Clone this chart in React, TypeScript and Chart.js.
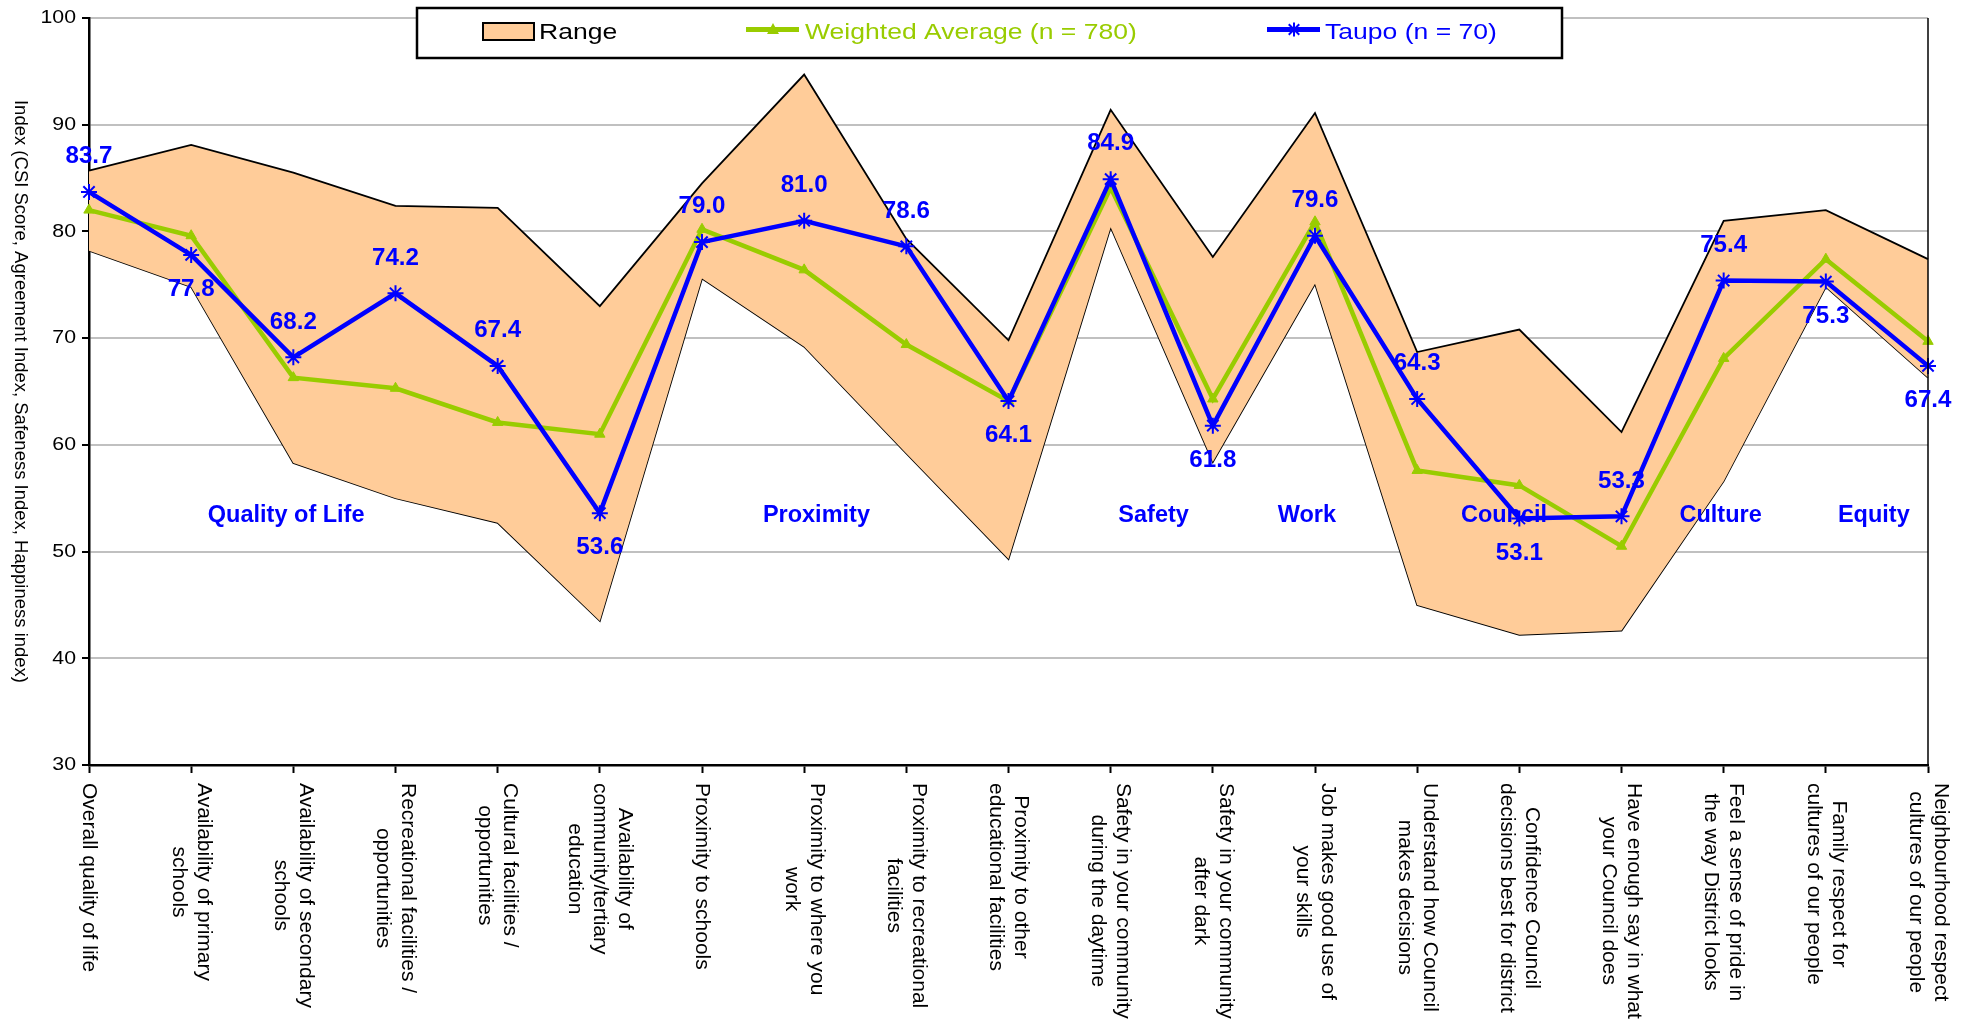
import React, { useEffect, useRef } from 'react';
import { Chart, registerables } from 'chart.js';

Chart.register(...registerables);

// ---------- DATA ----------
const categoryLines: string[][] = [
  ['Overall quality of life'],
  ['Availability of primary', 'schools'],
  ['Availability of secondary', 'schools'],
  ['Recreational facilities /', 'opportunities'],
  ['Cultural facilities /', 'opportunities'],
  ['Availability of', 'community/tertiary', 'education'],
  ['Proximity to schools'],
  ['Proximity to where you', 'work'],
  ['Proximity to recreational', 'facilities'],
  ['Proximity to other', 'educational facilities'],
  ['Safety in your community', 'during the daytime'],
  ['Safety in your community', 'after dark'],
  ['Job makes good use of', 'your skills'],
  ['Understand how Council', 'makes decisions'],
  ['Confidence Council', 'decisions best for district'],
  ['Have enough say in what', 'your Council does'],
  ['Feel a sense of pride in', 'the way District looks'],
  ['Family respect for', 'cultures of our people'],
  ['Neighbourhood respect', 'cultures of our people'],
];
const categories = categoryLines.map((l) => l.join(' '));

const rangeUpper = [85.7, 88.1, 85.5, 82.4, 82.2, 73.0, 84.5, 94.7, 79.3, 69.8, 91.4, 77.6, 91.1, 68.7, 70.8, 61.2, 81.0, 82.0, 77.4];
const rangeLower = [78.2, 74.8, 58.3, 55.0, 52.7, 43.5, 75.6, 69.2, 59.2, 49.3, 80.4, 58.4, 75.1, 45.0, 42.2, 42.6, 56.6, 74.8, 66.3];
const weightedAverage = [82.0, 79.6, 66.3, 65.3, 62.1, 61.0, 80.2, 76.4, 69.4, 64.1, 84.1, 64.3, 80.9, 57.6, 56.2, 50.5, 68.1, 77.4, 69.7];
const taupo = [83.7, 77.8, 68.2, 74.2, 67.4, 53.6, 79.0, 81.0, 78.6, 64.1, 84.9, 61.8, 79.6, 64.3, 53.1, 53.3, 75.4, 75.3, 67.4];
// label placement for Taupo values: 1 = above, -1 = below
const taupoLabelSide = [1, -1, 1, 1, 1, -1, 1, 1, 1, -1, 1, -1, 1, 1, -1, 1, 1, -1, -1];

const yTicks = [30, 40, 50, 60, 70, 80, 90, 100];
const yTitle = 'Index (CSI Score, Agreement Index, Safeness Index, Happiness index)';

const groupNames = ['Quality of Life', 'Proximity', 'Safety', 'Work', 'Council', 'Culture', 'Equity'];
const groupPositions = [1.93, 7.12, 10.42, 11.92, 13.85, 15.97, 17.47];
const groupLevel = 53.4;

const legendRange = 'Range';
const legendAvg = 'Weighted Average (n = 780)';
const legendTaupo = 'Taupo (n = 70)';

// ---------- STYLE ----------
const BLUE = '#0000FF';
const GREEN = '#99CC00';
const PEACH = '#FFCC99';
const FONT = '"Liberation Sans", Arial, Helvetica, sans-serif';

function drawText(
  ctx: CanvasRenderingContext2D,
  text: string,
  x: number,
  y: number,
  font: string,
  color: string,
  align: CanvasTextAlign,
  sx = 1
) {
  ctx.save();
  ctx.translate(x, y);
  ctx.scale(sx, 1);
  ctx.font = font;
  ctx.fillStyle = color;
  ctx.textAlign = align;
  ctx.textBaseline = 'middle';
  ctx.fillText(text, 0, 0);
  ctx.restore();
}

function drawStar(ctx: CanvasRenderingContext2D, x: number, y: number, r: number) {
  ctx.beginPath();
  const d = r * 0.75;
  ctx.moveTo(x - d, y - d);
  ctx.lineTo(x + d, y + d);
  ctx.moveTo(x - d, y + d);
  ctx.lineTo(x + d, y - d);
  ctx.moveTo(x, y - r);
  ctx.lineTo(x, y + r);
  ctx.stroke();
}

const overlayPlugin = {
  id: 'overlay',
  afterDraw(chart: any) {
    const ctx: CanvasRenderingContext2D = chart.ctx;
    const xs = chart.scales.x;
    const ys = chart.scales.y;
    const area = chart.chartArea;

    // right border
    ctx.save();
    ctx.strokeStyle = '#000';
    ctx.lineWidth = 1.5;
    ctx.beginPath();
    ctx.moveTo(area.right, area.top);
    ctx.lineTo(area.right, area.bottom);
    ctx.stroke();
    ctx.restore();

    // y tick labels
    yTicks.forEach((v) => {
      drawText(ctx, String(v), area.left - 13, ys.getPixelForValue(v), `19px ${FONT}`, '#000', 'right', 1.12);
    });

    // y title (reads top to bottom)
    ctx.save();
    ctx.translate(20, (area.top + area.bottom) / 2);
    ctx.rotate(Math.PI / 2);
    ctx.font = `18.5px ${FONT}`;
    ctx.fillStyle = '#000';
    ctx.textAlign = 'center';
    ctx.textBaseline = 'middle';
    ctx.fillText(yTitle, 0, 0);
    ctx.restore();

    // x category labels (rotated clockwise)
    const xFont = `21px ${FONT}`;
    const lineH = 25;
    categoryLines.forEach((lines, i) => {
      const x = xs.getPixelForValue(i);
      ctx.save();
      ctx.font = xFont;
      const maxW = Math.max(...lines.map((l) => ctx.measureText(l).width));
      ctx.translate(x, area.bottom + 18);
      ctx.rotate(Math.PI / 2);
      ctx.fillStyle = '#000';
      ctx.textAlign = 'center';
      ctx.textBaseline = 'middle';
      const n = lines.length;
      lines.forEach((l, j) => {
        ctx.fillText(l, maxW / 2, (j - (n - 1) / 2) * lineH);
      });
      ctx.restore();
    });

    // Taupo data labels
    taupo.forEach((v, i) => {
      const x = xs.getPixelForValue(i);
      const y = ys.getPixelForValue(v) - taupoLabelSide[i] * 35;
      drawText(ctx, v.toFixed(1), x, y, `bold 23px ${FONT}`, BLUE, 'center', 1.05);
    });

    // group labels
    groupNames.forEach((g, i) => {
      drawText(ctx, g, xs.getPixelForValue(groupPositions[i]), ys.getPixelForValue(groupLevel), `bold 23.5px ${FONT}`, BLUE, 'center');
    });

    // legend
    ctx.save();
    ctx.fillStyle = '#fff';
    ctx.fillRect(417, 8, 1145, 50);
    ctx.strokeStyle = '#000';
    ctx.lineWidth = 2.5;
    ctx.strokeRect(417, 8, 1145, 50);
    ctx.fillStyle = PEACH;
    ctx.fillRect(483, 23, 51, 17);
    ctx.lineWidth = 2;
    ctx.strokeRect(483, 23, 51, 17);
    ctx.restore();
    const legFont = `22.5px ${FONT}`;
    drawText(ctx, legendRange, 539, 33, legFont, '#000', 'left', 1.18);
    ctx.save();
    ctx.strokeStyle = GREEN;
    ctx.lineWidth = 5;
    ctx.beginPath();
    ctx.moveTo(746, 29.5);
    ctx.lineTo(799, 29.5);
    ctx.stroke();
    ctx.fillStyle = GREEN;
    ctx.beginPath();
    ctx.moveTo(773, 23);
    ctx.lineTo(779, 34);
    ctx.lineTo(767, 34);
    ctx.closePath();
    ctx.fill();
    ctx.restore();
    drawText(ctx, legendAvg, 805, 33, legFont, GREEN, 'left', 1.18);
    ctx.save();
    ctx.strokeStyle = BLUE;
    ctx.lineWidth = 5;
    ctx.beginPath();
    ctx.moveTo(1267, 29.5);
    ctx.lineTo(1320, 29.5);
    ctx.stroke();
    ctx.lineWidth = 2;
    drawStar(ctx, 1294, 29.5, 7);
    ctx.restore();
    drawText(ctx, legendTaupo, 1325, 33, legFont, BLUE, 'left', 1.18);
  },
};

export default function App() {
  const ref = useRef<HTMLCanvasElement | null>(null);

  useEffect(() => {
    document.body.style.margin = '0';
    const canvas = ref.current;
    if (!canvas) return;
    const chart = new Chart(canvas, {
      type: 'line',
      data: {
        labels: categories,
        datasets: [
          {
            label: legendTaupo,
            data: taupo,
            borderColor: BLUE,
            backgroundColor: BLUE,
            borderWidth: 4.5,
            pointStyle: 'star',
            pointRadius: 8,
            pointBorderWidth: 2,
            pointBorderColor: BLUE,
            tension: 0,
            fill: false,
            order: 0,
          },
          {
            label: legendAvg,
            data: weightedAverage,
            borderColor: GREEN,
            backgroundColor: GREEN,
            borderWidth: 4.5,
            pointStyle: 'triangle',
            pointRadius: 6,
            pointBorderWidth: 1,
            pointBorderColor: GREEN,
            tension: 0,
            fill: false,
            order: 1,
          },
          {
            label: 'Range upper',
            data: rangeUpper,
            borderColor: '#000',
            backgroundColor: PEACH,
            borderWidth: 1.8,
            pointRadius: 0,
            tension: 0,
            fill: '+1',
            order: 2,
          },
          {
            label: 'Range lower',
            data: rangeLower,
            borderColor: '#000',
            backgroundColor: PEACH,
            borderWidth: 1.8,
            pointRadius: 0,
            tension: 0,
            fill: false,
            order: 3,
          },
        ],
      },
      options: {
        responsive: false,
        animation: false,
        devicePixelRatio: 1,
        layout: { padding: { top: 18, right: 42, left: 0, bottom: 0 } },
        plugins: {
          legend: { display: false },
          tooltip: { enabled: false },
          title: { display: false },
        },
        scales: {
          x: {
            type: 'category',
            offset: false,
            ticks: { display: false },
            grid: {
              display: true,
              drawOnChartArea: false,
              drawTicks: true,
              tickLength: 8,
              tickColor: '#000',
              tickWidth: 2,
              offset: false,
            },
            border: { display: true, color: '#000', width: 2.5 },
            afterFit: (scale: any) => {
              scale.height = 259;
            },
          },
          y: {
            min: 30,
            max: 100,
            ticks: { display: false, stepSize: 10 },
            grid: {
              color: '#C0C0C0',
              lineWidth: 2,
              drawTicks: true,
              tickLength: 7,
              tickColor: '#000',
              tickWidth: 2,
            },
            border: { display: true, color: '#000', width: 2.5 },
            afterFit: (scale: any) => {
              scale.width = 89;
            },
          },
        },
      },
      plugins: [overlayPlugin],
    });
    return () => chart.destroy();
  }, []);

  return (
    <div style={{ width: 1970, height: 1024, background: '#fff' }}>
      <canvas ref={ref} width={1970} height={1024} style={{ display: 'block', width: 1970, height: 1024 }} />
    </div>
  );
}
